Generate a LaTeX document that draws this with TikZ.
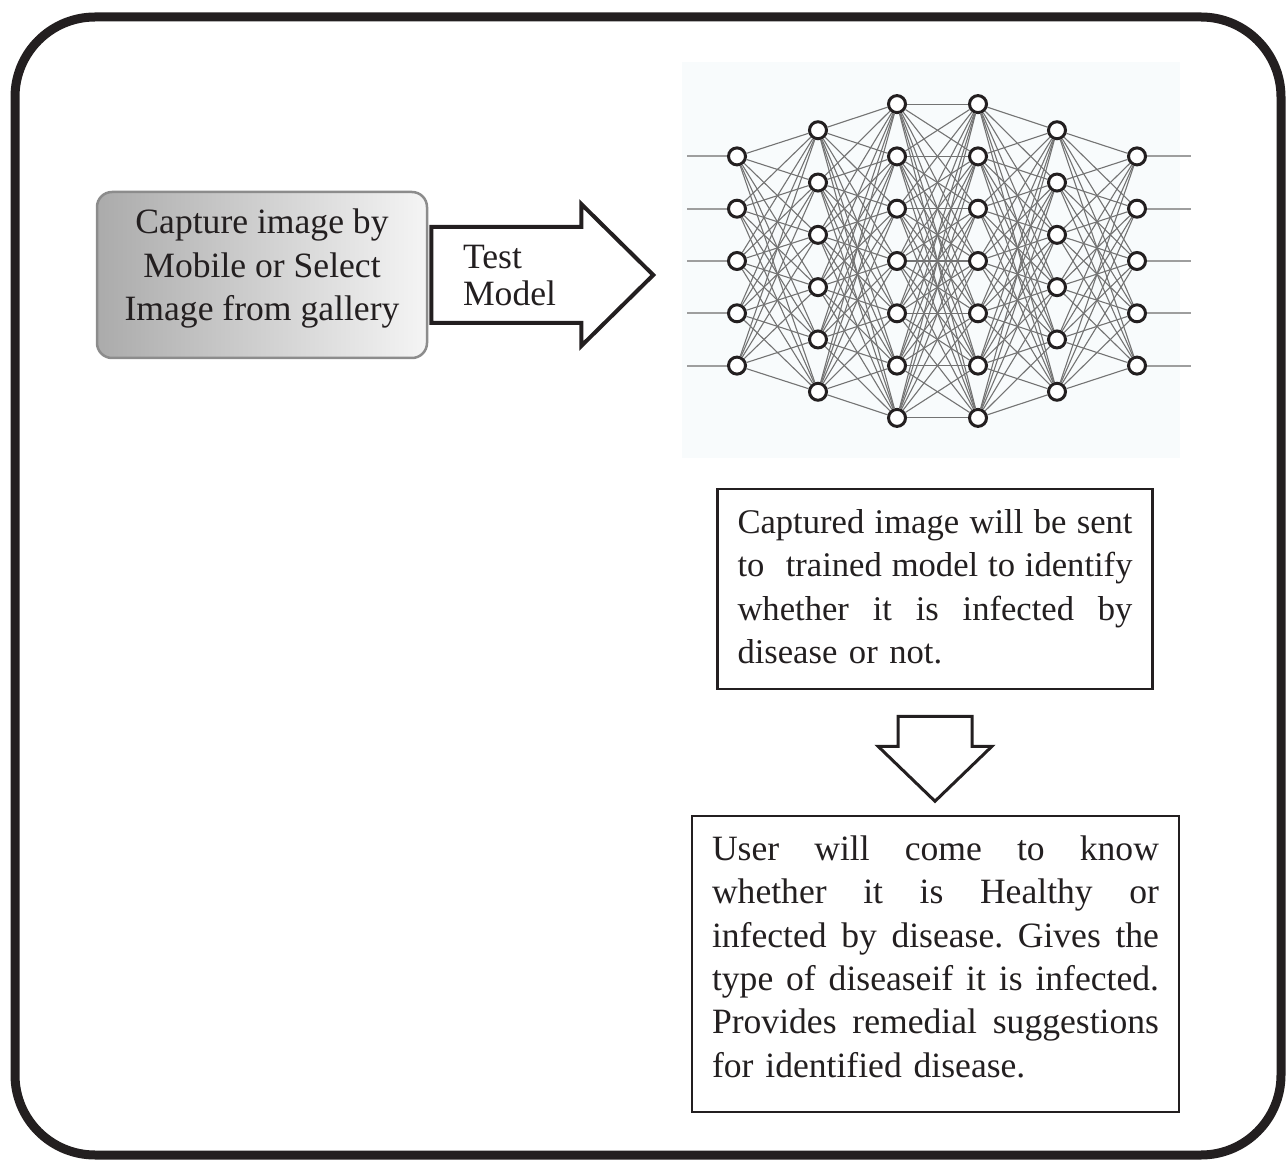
\documentclass[tikz,border=0pt]{standalone}
\usepackage{fontspec}
\setmainfont{Liberation Serif}
\usepackage{tikz}
\usetikzlibrary{calc,positioning}

\definecolor{ink}{HTML}{231F20}
\definecolor{nnback}{HTML}{F8FBFC}
\newcommand{\bodyfont}{\fontsize{17.8}{21.7}\selectfont}
\newcommand{\fullline}[2]{\leavevmode\hbox to #1{#2}\\}
\newcommand{\lowstrut}[1]{\rule[-#1]{0pt}{1pt}}

\begin{document}
\begin{tikzpicture}[
  x=0.5pt, y=-0.5pt,
  frame/.style={draw=ink, line width=4.5pt, rounded corners=40pt},
  capturebox/.style={draw=black!45, line width=1.25pt, rounded corners=7.5pt, left color=black!33, right color=black!4,
    align=center, font=\bodyfont, text=ink, minimum width=165pt, minimum height=83pt},
  textbox/.style={draw=ink, line width=1.25pt, align=left, font=\bodyfont, text=ink, inner xsep=10pt},
  blockarrow/.style={draw=ink, fill=white, line join=miter},
  neuron/.style={circle, draw=ink, line width=1.5pt, fill=white, minimum size=8.5pt, inner sep=0pt},
  synapse/.style={draw=black!55, line width=0.55pt},
  stub/.style={draw=black!38, line width=1pt}
]
\useasboundingbox (0,0) rectangle (1286,1160);
\draw[frame] (15,17) rectangle (1281,1155);

% input box and arrow to the network
\node[capturebox] (capture) at (262,275) {Capture image by\\Mobile or Select\\Image from gallery\lowstrut{10pt}};
\coordinate (arrowstart) at ($(capture.east)+(3,-48)$);
\draw[blockarrow, line width=2pt] (arrowstart) -- ++(150,0) -- ++(0,-23) -- ++(72,71) -- ++(-72,71)
  -- ++(0,-23) -- ++(-150,0) -- cycle;
\node[anchor=west, align=left, font=\fontsize{17.8}{18.5}\selectfont, text=ink] (testlabel) at (456,276) {Test\\Model};

% network picture
\fill[nnback] (682,62) rectangle (1180,458);
\foreach \l/\x/\n in {1/737/5, 2/818/6, 3/897/7, 4/978/7, 5/1057/6, 6/1137/5}
  \foreach \i in {1,...,\n}
    \node[neuron] (n\l-\i) at (\x, {261+(\i-(\n+1)/2)*52.3}) {};
\foreach \l/\m/\a/\b in {1/2/5/6, 2/3/6/7, 3/4/7/7, 4/5/7/6, 5/6/6/5}
  \foreach \i in {1,...,\a}
    \foreach \j in {1,...,\b}
      \draw[synapse] (n\l-\i) -- (n\m-\j);
\foreach \i in {1,...,5} {
  \draw[stub] (n1-\i.west) -- ++(-40,0);
  \draw[stub] (n6-\i.east) -- ++(44,0);
}

% result boxes
\node[textbox, text width=197.5pt, minimum height=100pt, font=\fontsize{17.3}{21.6}\selectfont] (check) at (935,589) {%
  \fullline{197.5pt}{Captured\hfill image\hfill will\hfill be\hfill sent}%
  \fullline{197.5pt}{to\hfill\ trained\hfill model\hfill to\hfill identify}%
  \fullline{197.5pt}{whether\hfill it\hfill is\hfill infected\hfill by}%
  disease or not.\lowstrut{2.5pt}};
\coordinate (downstart) at ($(check.south)+(-37,26)$);
\draw[blockarrow, line width=1.5pt] (downstart) -- ++(74,0) -- ++(0,30) -- ++(20,0) -- ++(-57,55)
  -- ++(-57,-55) -- ++(20,0) -- cycle;
\node[textbox, text width=223.5pt, minimum height=148pt] (result) at (935.5,964) {%
  \fullline{223.5pt}{User\hfill will\hfill come\hfill to\hfill know}%
  \fullline{223.5pt}{whether\hfill it\hfill is\hfill Healthy\hfill or}%
  \fullline{223.5pt}{infected\hfill by\hfill disease.\hfill Gives\hfill the}%
  \fullline{223.5pt}{type\hfill of\hfill diseaseif\hfill it\hfill is\hfill infected.}%
  \fullline{223.5pt}{Provides\hfill remedial\hfill suggestions}%
  for identified disease.\lowstrut{7.5pt}};
\end{tikzpicture}
\end{document}
